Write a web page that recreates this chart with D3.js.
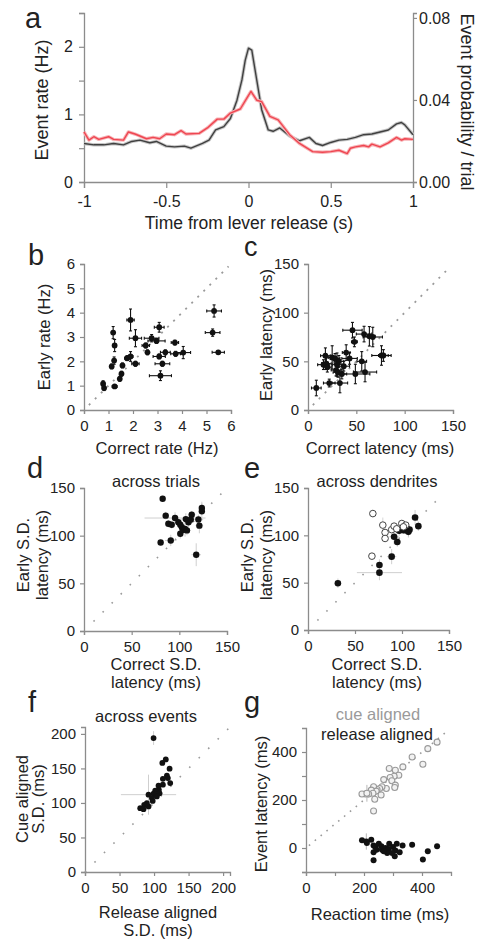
<!DOCTYPE html>
<html>
<head>
<meta charset="utf-8">
<script src="https://cdn.jsdelivr.net/npm/d3@7"></script>
<style>
  body { margin: 0; background: #fff; }
  svg { display: block; }
</style>
</head>
<body>
<div id="chart"></div>
<script>
// ---- panel a: event rate around lever release ----
const timeCorrect = [-1.0, -0.94, -0.88, -0.82, -0.76, -0.71, -0.66, -0.60, -0.56, -0.50, -0.45, -0.39, -0.35,
  -0.28, -0.24, -0.20, -0.15, -0.11, -0.07, -0.04, -0.02, 0.0, 0.02, 0.05, 0.08, 0.12, 0.15, 0.19, 0.25,
  0.31, 0.37, 0.41, 0.45, 0.50, 0.55, 0.60, 0.65, 0.70, 0.75, 0.80, 0.85, 0.90, 0.93, 0.95, 1.0]
const rateCorrect = [0.57, 0.55, 0.55, 0.57, 0.55, 0.60, 0.62, 0.58, 0.60, 0.53, 0.52, 0.53, 0.50,
  0.57, 0.62, 0.77, 0.82, 0.94, 1.21, 1.51, 1.80, 1.98, 1.95, 1.51, 1.07, 0.77, 0.75, 0.80, 0.68,
  0.61, 0.66, 0.57, 0.54, 0.585, 0.62, 0.63, 0.66, 0.70, 0.71, 0.74, 0.77, 0.86, 0.88, 0.845, 0.70]
const timeEarly = [-1.0, -0.97, -0.94, -0.91, -0.85, -0.82, -0.76, -0.73, -0.69, -0.62, -0.58, -0.54, -0.50,
  -0.45, -0.41, -0.38, -0.30, -0.25, -0.19, -0.15, -0.11, -0.05, -0.01, 0.015, 0.05, 0.08, 0.13, 0.18,
  0.25, 0.31, 0.39, 0.45, 0.50, 0.55, 0.60, 0.62, 0.65, 0.70, 0.73, 0.75, 0.80, 0.85, 0.90, 0.93, 0.95, 1.0]
const rateEarly = [0.74, 0.62, 0.67, 0.63, 0.67, 0.63, 0.62, 0.74, 0.71, 0.64, 0.66, 0.64, 0.71,
  0.70, 0.76, 0.71, 0.72, 0.80, 0.93, 0.93, 1.02, 1.08, 1.24, 1.34, 1.21, 1.19, 0.97, 0.92,
  0.70, 0.57, 0.45, 0.44, 0.45, 0.47, 0.42, 0.50, 0.52, 0.54, 0.52, 0.56, 0.52, 0.58, 0.66, 0.62, 0.64, 0.63]
const timeTicks = [-1, -0.5, 0, 0.5, 1]
const rateTicks = [0, 0.5, 1, 1.5, 2, 2.5]
const probTicks = [0, 0.04, 0.08]

// ---- panel b: rates per dendrite ----
const bCorrect = [0.78, 0.82, 1.25, 1.19, 1.25, 1.23, 1.13, 1.46, 1.53, 1.57, 1.90, 1.76, 1.90, 2.10, 2.10,
  2.52, 2.59, 2.76, 2.96, 3.07, 3.07, 3.20, 3.12, 3.32, 3.71, 3.74, 4.05, 5.31, 5.25, 5.48]
const bEarly = [1.08, 0.90, 0.97, 3.18, 2.65, 2.03, 1.79, 1.28, 1.49, 1.83, 3.70, 2.13, 2.20, 1.90, 2.95,
  2.65, 2.37, 2.95, 2.84, 3.40, 2.20, 1.90, 1.41, 2.37, 2.77, 2.31, 2.36, 4.07, 3.18, 2.37]
const bCorrectErr = [0.03, 0.05, 0.1, 0.04, 0.05, 0.05, 0.05, 0.05, 0.05, 0.05, 0.15, 0.1, 0.1, 0.15, 0.25,
  0.15, 0.05, 0.3, 0.35, 0.2, 0.25, 0.3, 0.45, 0.2, 0.15, 0.2, 0.3, 0.3, 0.3, 0.25]
const bEarlyErr = [0.12, 0.1, 0.05, 0.25, 0.25, 0.15, 0.1, 0.1, 0.1, 0.1, 0.45, 0.1, 0.2, 0.1, 0.35,
  0.1, 0.1, 0.15, 0.1, 0.2, 0.1, 0.1, 0.2, 0.1, 0.1, 0.1, 0.25, 0.25, 0.15, 0.05]

// ---- panel c: latencies ----
const cCorrect = [8.6, 16, 18, 19, 20, 22, 25, 28, 30, 29, 31, 33, 35, 37, 39.5, 43, 46, 48, 49, 55.6, 58, 59, 63.5, 67, 76, 78, 32]
const cEarly = [22.6, 46.6, 55.8, 47.6, 44, 27.7, 54, 53, 46.6, 41, 38.7, 27.7, 37, 45, 59, 53, 82, 70, 37, 50, 78, 39, 75.7, 75, 56, 56, 50]
const cCorrectErr = [5, 6, 5, 5, 4, 6, 4, 5, 5, 5, 5, 8, 5, 6, 4, 8, 10, 3, 15, 5, 8, 12, 6, 10, 10, 5, 5]
const cEarlyErr = [8, 5, 8, 6, 5, 4, 12, 5, 12, 6, 5, 10, 5, 5, 8, 6, 8, 5, 10, 10, 8, 10, 10, 10, 10, 6, 6]

// ---- panel d: S.D. across trials ----
const dCorrect = [82.5, 85.7, 80.4, 91, 88.5, 92, 95.5, 99, 101, 102.6, 101, 103.6, 106, 108, 106.8, 109.6, 113, 112, 117.7, 120, 121, 123.6, 123.6]
const dEarly = [138.8, 121, 92.9, 95, 112.5, 111.5, 118.5, 114, 111.5, 109, 102, 106, 107, 105.5, 117.4, 114, 122, 117, 80, 117, 110.5, 125.6, 129]
const dCorrectErr = [2, 3, 3, 6, 3, 3, 32, 4, 4, 4, 3, 4, 5, 4, 5, 5, 4, 5, 5, 5, 4, 3, 3]
const dEarlyErr = [3, 4, 3, 6, 4, 4, 6, 5, 5, 5, 5, 5, 8, 5, 6, 5, 4, 5, 12, 5, 8, 10, 5]

// ---- panel e: S.D. across dendrites (filled and open groups) ----
const eCorrectFilled = [31.8, 76, 76, 89, 95, 91.6, 97, 101.5, 105, 106.8, 108, 113.9, 117.4, 104]
const eEarlyFilled = [49.4, 68.7, 60.6, 77.5, 93, 98.5, 104.8, 105.5, 107, 103.7, 106, 118.8, 109.7, 105.5]
const eCorrectFilledErr = [3, 3, 24, 5, 4, 5, 4, 4, 4, 4, 4, 3, 3, 3]
const eEarlyFilledErr = [5, 6, 8, 8, 5, 8, 5, 4, 4, 6, 4, 8, 5, 3]
const eCorrectOpen = [69, 68, 79.6, 82, 82, 89, 91.6, 94.4, 99.8, 104, 101.5]
const eEarlyOpen = [123, 78, 110.8, 103, 96.7, 106, 109.7, 106.9, 112.5, 110.8, 109]
const eCorrectOpenErr = [2, 2, 2, 2, 2, 2, 2, 2, 2, 2, 2]
const eEarlyOpenErr = [4, 3, 8, 3, 3, 3, 3, 3, 3, 3, 3]

// ---- panel f: S.D. across events ----
const fRelease = [99.3, 112, 117, 122.5, 118.6, 120, 123.4, 112.8, 106.5, 112.8, 107, 101.7, 99.3, 103, 92, 96.9, 98, 89.6, 85.7, 80, 84.7, 92, 108, 104]
const fCue = [194, 158, 163, 149.6, 139.5, 136, 128.8, 135, 125, 126.4, 119, 117.7, 113.3, 111.9, 112, 107, 103, 99.8, 97.3, 92.5, 91, 95, 114, 109.4]
const fReleaseErr = [0, 0, 0, 0, 0, 0, 0, 0, 0, 0, 0, 0, 0, 0, 40, 0, 0, 0, 0, 0, 0, 0, 0, 0]
const fCueErr = [10, 0, 0, 0, 0, 0, 0, 0, 0, 0, 0, 0, 0, 0, 29, 0, 0, 0, 0, 0, 0, 0, 0, 0]

// ---- panel g: latency vs reaction time ----
const gRtCue = [452, 420, 403, 366, 334, 308, 287, 320, 304, 290, 296, 308, 306, 268, 277, 262, 254, 245, 233, 242, 225, 231, 259, 216, 205, 193, 237, 233, 210]
const gLatCue = [441, 414, 349, 379, 338, 324, 331, 303, 299, 294, 280, 262, 252, 285, 248, 255, 248, 244, 255, 237, 241, 228, 221, 225, 225, 225, 203, 154, 228]
const gRtCueErr = [0, 0, 0, 0, 0, 10, 0, 0, 0, 0, 0, 0, 10, 0, 0, 0, 0, 0, 0, 0, 0, 0, 0, 0, 0, 0, 0, 0, 17]
const gLatCueErr = [0, 0, 0, 0, 0, 0, 0, 0, 0, 0, 0, 0, 0, 0, 0, 0, 0, 0, 0, 0, 0, 0, 0, 0, 0, 0, 0, 0, 35]
const gRtRelease = [193, 210, 225, 233, 208, 239, 251, 260, 262, 274, 285, 280, 268, 287, 300, 308, 313, 323, 306, 333, 366, 233, 233, 403, 420, 452, 297, 243]
const gLatRelease = [32, 21, 34, 10, 27, 4, 18, 7, -7, 0, -4, -21, -14, 18, 4, -10, 18, -18, -34, 10, 14, -18, -51, -48, -14, 7, -21, -7]
const gRtReleaseErr = [0, 0, 0, 0, 2, 0, 0, 0, 0, 0, 0, 0, 0, 0, 0, 0, 0, 0, 0, 0, 0, 0, 0, 0, 0, 0, 0, 0]
const gLatReleaseErr = [0, 0, 0, 0, 34, 0, 0, 0, 0, 0, 0, 0, 0, 0, 0, 0, 0, 0, 0, 0, 0, 0, 0, 0, 0, 0, 0, 0]

const FONT = "'Liberation Sans', Arial, sans-serif"
const AXIS_COLOR = "#8c8c8c"
const TEXT_COLOR = "#222"
const TICK_FONT = 15
const LABEL_FONT = 16.5

const svg = d3.select("#chart")
              .append("svg")
              .attr("width", 479)
              .attr("height", 941)
              .attr("font-family", FONT)

function styleAxis(g, fontSize) {
  g.attr("font-family", FONT)
  g.select(".domain").attr("stroke", AXIS_COLOR).attr("stroke-width", 1.3)
  g.selectAll(".tick line").attr("stroke", AXIS_COLOR).attr("stroke-width", 1.2)
  g.selectAll(".tick text").attr("fill", TEXT_COLOR).attr("font-size", fontSize)
}

function text(x, y, str, opts = {}) {
  const t = svg.append("text")
               .attr("x", x)
               .attr("y", y)
               .attr("text-anchor", opts.anchor || "middle")
               .attr("font-size", opts.size || LABEL_FONT)
               .attr("fill", opts.color || TEXT_COLOR)
               .text(str)
  if (opts.rotate) {
    t.attr("transform", `rotate(${opts.rotate}, ${x}, ${y})`).attr("dy", "0.35em")
  }
  return t
}

// ================= panel a =================
{
  const x = d3.scaleLinear().domain([-1, 1]).range([84, 413])
  const y = d3.scaleLinear().domain([0, 2.5]).range([182, 13])
  const yProb = d3.scaleLinear().domain([0, 0.0824]).range([182, 13])

  svg.append("g")
     .attr("transform", "translate(0, 182)")
     .call(d3.axisBottom(x).tickValues(timeTicks).tickFormat(d => String(d))
             .tickSizeOuter(0).tickSize(6).tickPadding(8))
     .call(g => styleAxis(g, 16))

  svg.append("g")
     .attr("transform", "translate(84, 0)")
     .call(d3.axisLeft(y).tickValues(rateTicks)
             .tickFormat(d => (Number.isInteger(d) && d < 2.5) ? d : "")
             .tickSizeOuter(0).tickSize(5).tickPadding(6))
     .call(g => styleAxis(g, 16))

  svg.append("g")
     .attr("transform", "translate(413, 0)")
     .call(d3.axisRight(yProb).tickValues(probTicks).tickFormat(d3.format(".2f"))
             .tickSizeOuter(0).tickSize(4).tickPadding(2))
     .call(g => styleAxis(g, 16))

  const series = [
    { t: timeCorrect, v: rateCorrect, band: "#c6c6c6", line: "#404040" },
    { t: timeEarly, v: rateEarly, band: "#f7b3b6", line: "#ef4651" }
  ]
  const line = d3.line().x(d => x(d[0])).y(d => y(d[1]))

  series.forEach(s => {
    const pts = s.t.map((t, i) => [t, s.v[i]])
    svg.append("path").attr("d", line(pts)).attr("fill", "none")
       .attr("stroke", s.band).attr("stroke-width", 3.4).attr("stroke-linejoin", "round")
    svg.append("path").attr("d", line(pts)).attr("fill", "none")
       .attr("stroke", s.line).attr("stroke-width", 1.4).attr("stroke-linejoin", "round")
  })

  text(42, 100, "Event rate (Hz)", { size: 18, rotate: -90 })
  text(467, 102, "Event probability / trial", { size: 18, rotate: 90 })
  text(249, 228.5, "Time from lever release (s)", { size: 17.5 })
  text(25, 28, "a", { size: 29, anchor: "start" })
}

// ================= scatter panels =================
function scatterPanel(p) {
  const x = d3.scaleLinear().domain(p.xDomain).range(p.xRange)
  const y = d3.scaleLinear().domain(p.yDomain).range(p.yRange)
  const fmt = d => (p.labelEvery && d % p.labelEvery !== 0) ? "" : d

  svg.append("g")
     .attr("transform", `translate(0, ${p.yRange[0]})`)
     .call(d3.axisBottom(x).tickValues(p.xTicks).tickFormat(fmt)
             .tickSizeOuter(0).tickSize(4).tickPadding(6))
     .call(g => styleAxis(g, TICK_FONT))

  svg.append("g")
     .attr("transform", `translate(${p.xRange[0]}, 0)`)
     .call(d3.axisLeft(y).tickValues(p.yTicks).tickFormat(fmt)
             .tickSizeOuter(0).tickSize(4).tickPadding(5))
     .call(g => styleAxis(g, TICK_FONT))

  // unity line
  svg.append("line")
     .attr("x1", x(p.diag[0])).attr("y1", y(p.diag[0]))
     .attr("x2", x(p.diag[1])).attr("y2", y(p.diag[1]))
     .attr("stroke", "#9a9a9a")
     .attr("stroke-width", p.diagWidth || 1.8)
     .attr("stroke-dasharray", p.dash)

  p.groups.forEach(grp => {
    const data = grp.xs.map((v, i) => ({ x: v, y: grp.ys[i], ex: grp.ex[i], ey: grp.ey[i] }))
    const eb = svg.append("g")
                  .attr("stroke", grp.errColor)
                  .attr("stroke-width", grp.errWidth || 1)

    eb.selectAll(".h").data(data.filter(d => d.ex > 0)).enter().append("line")
      .attr("x1", d => x(d.x - d.ex)).attr("x2", d => x(d.x + d.ex))
      .attr("y1", d => y(d.y)).attr("y2", d => y(d.y))
    eb.selectAll(".v").data(data.filter(d => d.ey > 0)).enter().append("line")
      .attr("x1", d => x(d.x)).attr("x2", d => x(d.x))
      .attr("y1", d => y(d.y - d.ey)).attr("y2", d => y(d.y + d.ey))

    if (grp.caps) {
      data.filter(d => d.ex > 0).forEach(d => {
        [d.x - d.ex, d.x + d.ex].forEach(v => {
          eb.append("line").attr("x1", x(v)).attr("x2", x(v))
            .attr("y1", y(d.y) - 1.5).attr("y2", y(d.y) + 1.5)
        })
      })
      data.filter(d => d.ey > 0).forEach(d => {
        [d.y - d.ey, d.y + d.ey].forEach(v => {
          eb.append("line").attr("y1", y(v)).attr("y2", y(v))
            .attr("x1", x(d.x) - 1.5).attr("x2", x(d.x) + 1.5)
        })
      })
    }

    svg.append("g").selectAll("circle").data(data).enter().append("circle")
       .attr("cx", d => x(d.x))
       .attr("cy", d => y(d.y))
       .attr("r", grp.r)
       .attr("fill", grp.fill)
       .attr("stroke", grp.stroke || "none")
       .attr("stroke-width", grp.strokeWidth || 1)
  })
}

const ticks0to6 = [0, 1, 2, 3, 4, 5, 6]
const ticks0to150 = [0, 50, 100, 150]
const ticks0to200 = [0, 50, 100, 150, 200]
const ticksRt = [0, 100, 200, 300, 400]
const ticksLat = [-100, 0, 100, 200, 300, 400]

// b
scatterPanel({
  xDomain: [0, 6], xRange: [84, 231], yDomain: [0, 6], yRange: [410, 264],
  xTicks: ticks0to6, yTicks: ticks0to6, diag: [0.2, 5.9], dash: "2 6.5",
  groups: [{ xs: bCorrect, ys: bEarly, ex: bCorrectErr, ey: bEarlyErr, r: 2.9, fill: "#111",
             errColor: "#111", errWidth: 1.1, caps: true }]
})
text(28, 265, "b", { size: 29, anchor: "start" })
text(44, 337, "Early rate (Hz)", { rotate: -90 })
text(157, 454, "Correct rate (Hz)")

// c
scatterPanel({
  xDomain: [0, 150], xRange: [308, 453], yDomain: [0, 150], yRange: [410, 264],
  xTicks: ticks0to150, yTicks: ticks0to150, diag: [5, 147], dash: "2 6.5",
  groups: [{ xs: cCorrect, ys: cEarly, ex: cCorrectErr, ey: cEarlyErr, r: 2.9, fill: "#111",
             errColor: "#111", errWidth: 1.1, caps: true }]
})
text(244, 256, "c", { size: 27, anchor: "start" })
text(266, 335, "Early latency (ms)", { rotate: -90 })
text(380, 454, "Correct latency (ms)")

// d
scatterPanel({
  xDomain: [0, 150], xRange: [84, 227], yDomain: [0, 150], yRange: [631, 488],
  xTicks: ticks0to150, yTicks: ticks0to150, diag: [10, 150], dash: "1.6 11.2", diagWidth: 1.6,
  groups: [{ xs: dCorrect, ys: dEarly, ex: dCorrectErr, ey: dEarlyErr, r: 3.2, fill: "#111",
             errColor: "#cfcfcf" }]
})
text(27, 478, "d", { size: 29, anchor: "start" })
text(156, 487, "across trials")
text(23, 555, "Early S.D.", { rotate: -90 })
text(42, 555, "latency (ms)", { rotate: -90 })
text(156, 670, "Correct S.D.")
text(156, 688, "latency (ms)")

// e
scatterPanel({
  xDomain: [0, 150], xRange: [308, 449], yDomain: [0, 150], yRange: [630, 488],
  xTicks: ticks0to150, yTicks: ticks0to150, diag: [10, 142], dash: "1.6 11.2", diagWidth: 1.6,
  groups: [
    { xs: eCorrectFilled, ys: eEarlyFilled, ex: eCorrectFilledErr, ey: eEarlyFilledErr, r: 3.3,
      fill: "#111", errColor: "#cfcfcf" },
    { xs: eCorrectOpen, ys: eEarlyOpen, ex: eCorrectOpenErr, ey: eEarlyOpenErr, r: 3.3,
      fill: "#fff", stroke: "#444", strokeWidth: 1, errColor: "#d6d6d6" }
  ]
})
text(244, 478, "e", { size: 29, anchor: "start" })
text(377, 487, "across dendrites")
text(247, 555, "Early S.D.", { rotate: -90 })
text(266, 555, "latency (ms)", { rotate: -90 })
text(377, 670, "Correct S.D.")
text(377, 688, "latency (ms)")

// f
scatterPanel({
  xDomain: [0, 210], xRange: [85, 230], yDomain: [0, 210], yRange: [872, 727],
  xTicks: ticks0to200, yTicks: ticks0to200, diag: [0, 210], dash: "1.6 11.8", diagWidth: 1.6,
  groups: [{ xs: fRelease, ys: fCue, ex: fReleaseErr, ey: fCueErr, r: 2.9, fill: "#111",
             errColor: "#cfcfcf" }]
})
text(28, 712, "f", { size: 29, anchor: "start" })
text(146, 722, "across events")
text(22, 799, "Cue aligned", { rotate: -90 })
text(38, 799, "S.D. (ms)", { rotate: -90 })
text(158, 918, "Release aligned")
text(158, 936, "S.D. (ms)")

// g
scatterPanel({
  xDomain: [0, 500], xRange: [306, 451], yDomain: [-100, 500], yRange: [872, 728],
  xTicks: ticksRt, yTicks: ticksLat, labelEvery: 200, diag: [10, 490], dash: "1.6 6", diagWidth: 1.6,
  groups: [
    { xs: gRtCue, ys: gLatCue, ex: gRtCueErr, ey: gLatCueErr, r: 3, fill: "#f2f2f2",
      stroke: "#9a9a9a", strokeWidth: 1.1, errColor: "#b8b8b8" },
    { xs: gRtRelease, ys: gLatRelease, ex: gRtReleaseErr, ey: gLatReleaseErr, r: 3, fill: "#111",
      errColor: "#b8b8b8" }
  ]
})
text(244, 712, "g", { size: 29, anchor: "start" })
text(378, 720, "cue aligned", { color: "#9a9a9a" })
text(377, 740, "release aligned")
text(261, 804, "Event latency (ms)", { rotate: -90 })
text(380, 920, "Reaction time (ms)")
</script>
</body>
</html>
